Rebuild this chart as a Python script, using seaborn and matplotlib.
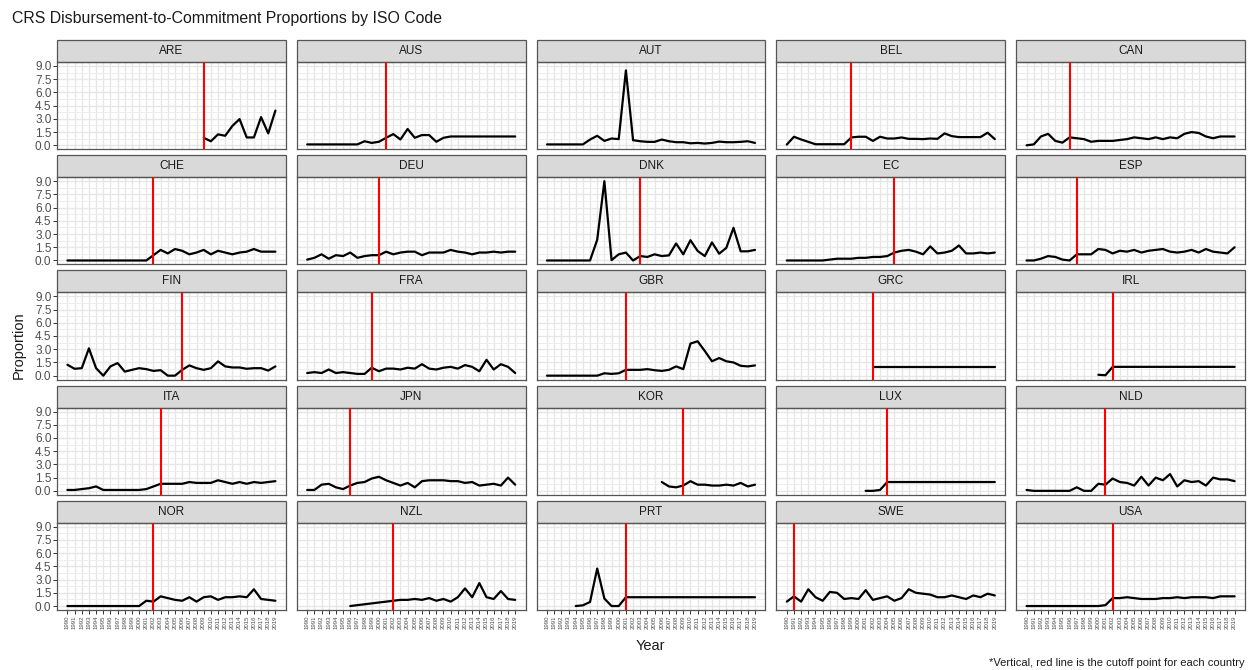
import numpy as np
import pandas as pd
import seaborn as sns
import matplotlib
matplotlib.use("Agg")
import matplotlib.pyplot as plt
from matplotlib.patches import Rectangle
from matplotlib.ticker import MultipleLocator, FormatStrFormatter

N = None
years = list(range(1990, 2020))
countries = ["ARE", "AUS", "AUT", "BEL", "CAN",
             "CHE", "DEU", "DNK", "EC", "ESP",
             "FIN", "FRA", "GBR", "GRC", "IRL",
             "ITA", "JPN", "KOR", "LUX", "NLD",
             "NOR", "NZL", "PRT", "SWE", "USA"]

ARE = [N]*19 + [0.85, 0.46, 1.24, 1.08, 2.2, 2.97, 0.89, 0.89, 3.2, 1.35, 3.94]
AUS = [0.1]*8 + [0.46, 0.27, 0.4, 0.85, 1.27, 0.66, 1.85, 0.85, 1.16, 1.16, 0.4, 0.85] + [1.0]*10
AUT = [0.1]*6 + [0.65, 1.08, 0.5, 0.77, 0.7, 8.5, 0.58, 0.46, 0.39, 0.39, 0.65, 0.46,
                 0.35, 0.35, 0.23, 0.27, 0.2, 0.27, 0.42, 0.35, 0.35, 0.39, 0.46, 0.27]
BEL = [0.08, 0.97, 0.66, 0.39, 0.12, 0.12, 0.12, 0.12, 0.12, 0.89, 0.97, 0.97, 0.5, 0.97,
       0.77, 0.77, 0.89, 0.73, 0.73, 0.7, 0.77, 0.73, 1.35, 1.04, 0.93, 0.93, 0.93, 0.93, 1.43, 0.7]
CAN = [0.0, 0.1, 1.0, 1.3, 0.5, 0.3, 0.9, 0.8, 0.7, 0.4, 0.5, 0.5, 0.5, 0.6, 0.7,
       0.9, 0.8, 0.7, 0.9, 0.7, 0.9, 0.8, 1.3, 1.5, 1.4, 1.0, 0.8, 1.0, 1.0, 1.0]
CHE = [0.0]*12 + [0.6, 1.2, 0.8, 1.3, 1.1, 0.7, 0.9, 1.2, 0.7, 1.1, 0.9, 0.7, 0.9, 1.0, 1.3, 1.0, 1.0, 1.0]
DEU = [0.1, 0.3, 0.7, 0.2, 0.6, 0.5, 0.9, 0.3, 0.5, 0.6, 0.6, 1.0, 0.7, 0.9, 1.0,
       1.0, 0.6, 0.9, 0.9, 0.9, 1.2, 1.0, 0.9, 0.7, 0.9, 0.9, 1.0, 0.9, 1.0, 1.0]
DNK = [0.0]*7 + [2.35, 8.99, 0.04, 0.7, 0.9, 0.0, 0.5, 0.4, 0.7, 0.5, 0.58, 1.93, 0.7,
                 2.3, 1.08, 0.5, 2.05, 0.77, 1.43, 3.7, 1.04, 1.04, 1.2]
EC = [0.0]*6 + [0.1, 0.2, 0.2, 0.2, 0.3, 0.3, 0.4, 0.4, 0.5, 0.9, 1.1, 1.2, 1.0, 0.7,
                1.6, 0.8, 0.9, 1.1, 1.7, 0.8, 0.8, 0.9, 0.8, 0.9]
ESP = [0.0, 0.0, 0.2, 0.5, 0.4, 0.1, 0.0, 0.7, 0.7, 0.7, 1.3, 1.2, 0.8, 1.1, 1.0,
       1.2, 0.9, 1.1, 1.2, 1.3, 1.0, 0.9, 1.0, 1.2, 0.9, 1.3, 1.0, 0.9, 0.8, 1.5]
FIN = [1.24, 0.78, 0.85, 3.1, 0.85, 0.0, 1.05, 1.43, 0.46, 0.66, 0.85, 0.74, 0.54, 0.62, 0.0,
       0.0, 0.66, 1.16, 0.85, 0.66, 0.85, 1.62, 1.05, 0.93, 0.93, 0.78, 0.85, 0.85, 0.58, 1.05]
FRA = [0.3, 0.4, 0.3, 0.7, 0.3, 0.4, 0.3, 0.2, 0.2, 0.9, 0.5, 0.8, 0.8, 0.7, 0.9,
       0.8, 1.3, 0.8, 0.7, 0.9, 1.0, 0.8, 1.2, 1.0, 0.5, 1.8, 0.7, 1.3, 1.0, 0.3]
GBR = [0.0]*8 + [0.27, 0.2, 0.27, 0.66, 0.66, 0.66, 0.74, 0.62, 0.54, 0.66, 1.05, 0.74,
                 3.64, 3.9, 2.8, 1.63, 2.0, 1.63, 1.5, 1.12, 1.05, 1.16]
GRC = [N]*12 + [1.0]*18
IRL = [N]*10 + [0.1, 0.05] + [1.0]*18
ITA = [0.1, 0.1, 0.2, 0.3, 0.5, 0.1, 0.1, 0.1, 0.1, 0.1, 0.1, 0.2, 0.5, 0.8, 0.8,
       0.8, 0.8, 1.0, 0.9, 0.9, 0.9, 1.2, 1.0, 0.8, 1.0, 0.8, 1.0, 0.9, 1.0, 1.1]
JPN = [0.1, 0.1, 0.7, 0.8, 0.4, 0.2, 0.6, 0.9, 1.0, 1.4, 1.6, 1.2, 0.9, 0.6, 0.9,
       0.4, 1.1, 1.2, 1.2, 1.2, 1.1, 1.1, 0.9, 1.0, 0.6, 0.7, 0.8, 0.6, 1.5, 0.7]
KOR = [N]*16 + [1.0, 0.5, 0.4, 0.6, 1.1, 0.7, 0.7, 0.6, 0.6, 0.7, 0.6, 0.9, 0.5, 0.7]
LUX = [N]*11 + [0.0, 0.0, 0.1] + [1.0]*16
NLD = [0.1, 0.0, 0.0, 0.0, 0.0, 0.0, 0.0, 0.4, 0.0, 0.0, 0.8, 0.7, 1.4, 1.0, 0.9,
       0.6, 1.6, 0.6, 1.5, 1.2, 1.9, 0.5, 1.2, 1.0, 1.1, 0.6, 1.5, 1.3, 1.3, 1.1]
NOR = [0.0]*11 + [0.6, 0.5, 1.1, 0.9, 0.7, 0.6, 1.0, 0.5, 1.0, 1.1, 0.7, 1.0, 1.0,
                  1.1, 1.0, 1.9, 0.8, 0.7, 0.6]
NZL = [N]*6 + [0.0, 0.1, 0.2, 0.3, 0.4, 0.5, 0.6, 0.7, 0.7, 0.8, 0.7, 0.9, 0.6, 0.8,
               0.5, 1.0, 2.0, 1.0, 2.6, 1.0, 0.8, 1.7, 0.8, 0.7]
PRT = [N]*4 + [0.0, 0.08, 0.46, 4.25, 0.85, 0.0, 0.0] + [1.0]*19
SWE = [0.5, 1.1, 0.5, 1.9, 1.0, 0.6, 1.6, 1.5, 0.8, 0.9, 0.8, 1.8, 0.7, 0.9, 1.1,
       0.6, 0.9, 1.9, 1.5, 1.4, 1.3, 1.0, 1.0, 1.2, 1.0, 0.8, 1.2, 1.0, 1.4, 1.2]
USA = [0.0]*11 + [0.1, 0.9, 0.9, 1.0, 0.9, 0.8, 0.8, 0.8, 0.9, 0.9, 1.0, 0.9, 1.0,
                  1.0, 1.0, 0.9, 1.1, 1.1, 1.1]

series = {"ARE": ARE, "AUS": AUS, "AUT": AUT, "BEL": BEL, "CAN": CAN,
          "CHE": CHE, "DEU": DEU, "DNK": DNK, "EC": EC, "ESP": ESP,
          "FIN": FIN, "FRA": FRA, "GBR": GBR, "GRC": GRC, "IRL": IRL,
          "ITA": ITA, "JPN": JPN, "KOR": KOR, "LUX": LUX, "NLD": NLD,
          "NOR": NOR, "NZL": NZL, "PRT": PRT, "SWE": SWE, "USA": USA}

cutoffs = {"ARE": 2009, "AUS": 2001, "AUT": None, "BEL": 1999, "CAN": 1996,
           "CHE": 2002, "DEU": 2000, "DNK": 2003, "EC": 2005, "ESP": 1997,
           "FIN": 2006, "FRA": 1999, "GBR": 2001, "GRC": 2002, "IRL": 2002,
           "ITA": 2003, "JPN": 1996, "KOR": 2009, "LUX": 2004, "NLD": 2001,
           "NOR": 2002, "NZL": 2002, "PRT": 2001, "SWE": 1991, "USA": 2002}

y_ticks = [0.0, 1.5, 3.0, 4.5, 6.0, 7.5, 9.0]

rows = []
for c in countries:
    for yr, v in zip(years, series[c]):
        if v is not None:
            rows.append({"iso": c, "year": yr, "value": v})
df = pd.DataFrame(rows)

sns.set_theme(style="white")
plt.rcParams["font.family"] = ["Liberation Sans", "DejaVu Sans"]

W, H = 1249, 670
g = sns.FacetGrid(df, col="iso", col_wrap=5, col_order=countries,
                  sharex=True, sharey=True, height=1.2, aspect=2.6, despine=False)
g.map_dataframe(sns.lineplot, x="year", y="value", color="black", linewidth=1.6)
fig = g.figure
fig.set_size_inches(W / 100, H / 100)
fig.subplots_adjust(left=57 / W, right=1245 / W, top=1 - 62 / H, bottom=1 - 610 / H,
                    wspace=0.048, hspace=0.32)
g.set_titles("")
g.set_axis_labels("", "")

axes = g.axes.flatten()
ax_h = (610 - 62 - 4 * 28) / 5.0
strip_h = 22 / ax_h
for i, (ax, c) in enumerate(zip(axes, countries)):
    ax.set_facecolor("white")
    ax.set_xlim(1990 - 1.45, 2019 + 1.45)
    ax.set_ylim(-0.45, 9.45)
    ax.set_xticks(years)
    ax.set_yticks(y_ticks)
    ax.yaxis.set_minor_locator(MultipleLocator(0.75))
    ax.yaxis.set_major_formatter(FormatStrFormatter("%.1f"))
    ax.grid(True, which="major", color="#E6E6E6", linewidth=1.0)
    ax.grid(True, which="minor", axis="y", color="#EDEDED", linewidth=0.7)
    ax.set_axisbelow(True)
    for sp in ax.spines.values():
        sp.set_color("#555555")
        sp.set_linewidth(0.9)
    ax.tick_params(which="minor", length=0)
    ax.tick_params(axis="both", which="major", direction="out", length=3, width=0.7,
                   color="#333333", pad=1)
    ax.tick_params(axis="y", labelsize=8.5, labelcolor="#4D4D4D",
                   left=(i % 5 == 0), labelleft=(i % 5 == 0))
    bottom = i >= 20
    ax.tick_params(axis="x", labelsize=4.4, labelcolor="#4D4D4D", labelrotation=90,
                   bottom=bottom, labelbottom=bottom)
    if bottom:
        ax.set_xticklabels([str(y) for y in years])
    ax.set_xlabel("")
    ax.set_ylabel("")
    if cutoffs[c] is not None:
        ax.axvline(cutoffs[c], color="#FF0000", linewidth=1.5, zorder=3)
    ax.add_patch(Rectangle((0, 1), 1, strip_h, transform=ax.transAxes, clip_on=False,
                           facecolor="#D9D9D9", edgecolor="#555555", linewidth=0.9))
    ax.text(0.5, 1 + strip_h / 2, c, transform=ax.transAxes, ha="center", va="center",
            fontsize=8.5, color="#1A1A1A")

fig.text(12 / W, 1 - 18 / H, "CRS Disbursement-to-Commitment Proportions by ISO Code",
         fontsize=11.4, ha="left", va="center", color="#1A1A1A")
fig.text(19 / W, 1 - 345 / H, "Proportion", rotation=90, fontsize=10.5,
         ha="center", va="center", color="#1A1A1A")
fig.text(650 / W, 1 - 646 / H, "Year", fontsize=10.5, ha="center", va="center",
         color="#1A1A1A")
fig.text(1245 / W, 1 - 663 / H, "*Vertical, red line is the cutoff point for each country",
         fontsize=8, ha="right", va="center", color="#1A1A1A")

fig.savefig("out.png", dpi=100, facecolor="white")
